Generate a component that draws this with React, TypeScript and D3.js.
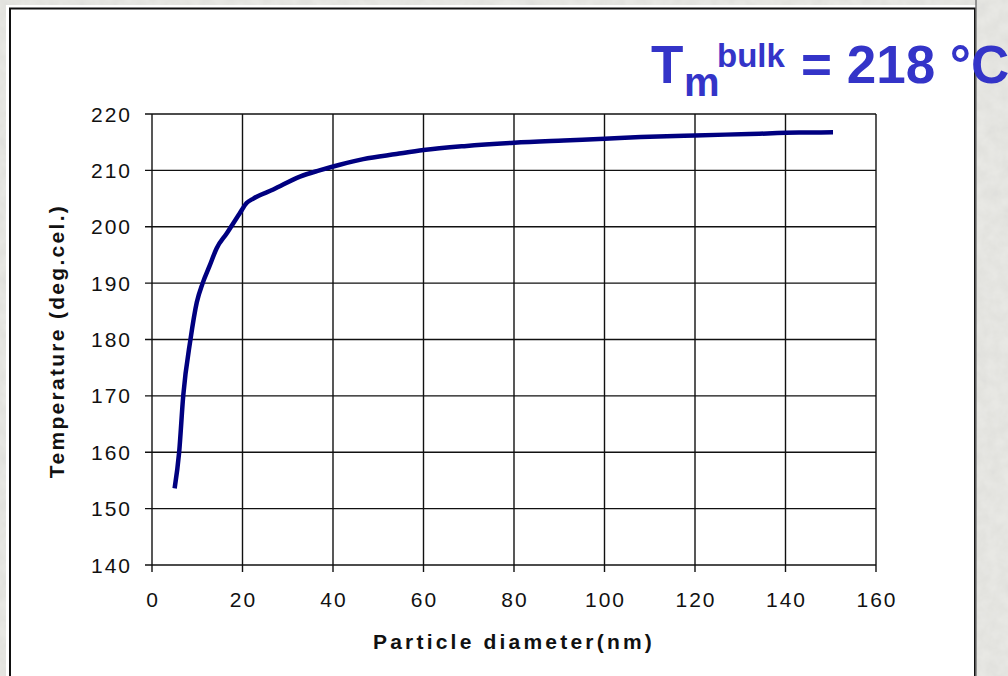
import { useEffect, useRef } from 'react';
import * as d3 from 'd3';

// particle diameter (nm) vs melting temperature (deg C)
const diameters = [5, 6, 6.9, 8.5, 9.9, 11.2, 12.7, 14.3, 16.5, 19.4, 20.9, 22.4, 26.8, 32.7, 37, 41.5, 46.7, 54, 60, 69, 80, 91, 100, 108, 120, 132, 143, 150.5];
const temperatures = [153.6, 160, 170, 180, 186.6, 190, 193, 196.2, 198.8, 202.4, 204.2, 205, 206.6, 208.9, 210, 211, 212, 212.9, 213.6, 214.3, 214.9, 215.3, 215.6, 215.9, 216.2, 216.45, 216.7, 216.75];

const xTicks = [0, 20, 40, 60, 80, 100, 120, 140, 160];
const yTicks = [140, 150, 160, 170, 180, 190, 200, 210, 220];

const WIDTH = 1008;
const HEIGHT = 676;

export default function App() {
  const svgRef = useRef<SVGSVGElement>(null);

  useEffect(() => {
    if (!svgRef.current) return;
    const svg = d3.select(svgRef.current);
    svg.selectAll('*').remove();

    const left = 152, right = 876, top = 114, bottom = 565;

    // marble-ish background
    const defs = svg.append('defs');
    const f = defs.append('filter').attr('id', 'marble').attr('x', 0).attr('y', 0).attr('width', 1).attr('height', 1);
    f.append('feTurbulence').attr('type', 'fractalNoise').attr('baseFrequency', 0.08).attr('numOctaves', 3).attr('seed', 4).attr('result', 'n');
    f.append('feColorMatrix').attr('in', 'n').attr('type', 'matrix')
      .attr('values', '0 0 0 0 0.7  0 0 0 0 0.7  0 0 0 0 0.68  0 0 0 -0.9 0.7');
    f.append('feComposite').attr('in2', 'SourceGraphic').attr('operator', 'over');

    svg.append('rect').attr('width', WIDTH).attr('height', HEIGHT).attr('fill', '#e8e8e4');
    svg.append('rect').attr('width', WIDTH).attr('height', HEIGHT).attr('fill', '#e8e8e4').attr('filter', 'url(#marble)');

    // white chart panel
    svg.append('rect').attr('x', 6).attr('y', 5).attr('width', 970).attr('height', HEIGHT).attr('fill', '#fff');
    svg.append('rect').attr('x', 10).attr('y', 8.5).attr('width', 965).attr('height', HEIGHT)
      .attr('fill', 'none').attr('stroke', '#111').attr('stroke-width', 2);
    svg.append('line').attr('x1', 976).attr('x2', 976).attr('y1', 0).attr('y2', HEIGHT)
      .attr('stroke', '#777').attr('stroke-width', 1.5);

    const x = d3.scaleLinear().domain([0, 160]).range([left, right]);
    const y = d3.scaleLinear().domain([140, 220]).range([bottom, top]);

    const font = 'Arial, "Liberation Sans", sans-serif';

    // grid
    const grid = svg.append('g').attr('stroke', '#111').attr('stroke-width', 1.4);
    grid.selectAll('.vx').data(xTicks).enter().append('line')
      .attr('x1', d => x(d)).attr('x2', d => x(d)).attr('y1', top).attr('y2', bottom + 7);
    grid.selectAll('.hy').data(yTicks).enter().append('line')
      .attr('x1', left - 7).attr('x2', right).attr('y1', d => y(d)).attr('y2', d => y(d));

    // tick labels
    svg.append('g').selectAll('text').data(yTicks).enter().append('text')
      .attr('x', 132).attr('y', d => y(d) + 7.5)
      .attr('text-anchor', 'end')
      .style('font-family', font).style('font-size', '21px').style('letter-spacing', '2px')
      .attr('fill', '#111')
      .text(d => d);

    svg.append('g').selectAll('text').data(xTicks).enter().append('text')
      .attr('x', d => x(d) + 1).attr('y', 607)
      .attr('text-anchor', 'middle')
      .style('font-family', font).style('font-size', '21px').style('letter-spacing', '2px')
      .attr('fill', '#111')
      .text(d => d);

    // axis titles
    svg.append('text')
      .attr('x', 514).attr('y', 649)
      .attr('text-anchor', 'middle')
      .style('font-family', font).style('font-size', '21px').style('font-weight', 'bold').style('letter-spacing', '3.2px')
      .attr('fill', '#111')
      .text('Particle diameter(nm)');

    svg.append('text')
      .attr('transform', 'translate(64,341) rotate(-90)')
      .attr('text-anchor', 'middle')
      .style('font-family', font).style('font-size', '21px').style('font-weight', 'bold').style('letter-spacing', '2.3px')
      .attr('fill', '#111')
      .text('Temperature (deg.cel.)');

    // curve
    const pts: [number, number][] = diameters.map((d, i) => [d, temperatures[i]]);
    const line = d3.line<[number, number]>()
      .x(d => x(d[0])).y(d => y(d[1]))
      .curve(d3.curveMonotoneX);
    svg.append('path').attr('d', line(pts) || '')
      .attr('fill', 'none').attr('stroke', '#000080').attr('stroke-width', 4.5);

    // title: T_m^bulk = 218 °C
    const title = svg.append('text')
      .attr('x', 651).attr('y', 83)
      .style('font-family', font).style('font-weight', 'bold')
      .attr('fill', '#3434c8');
    title.append('tspan').style('font-size', '53px').text('T');
    title.append('tspan').attr('x', 684).attr('y', 96).style('font-size', '40px').text('m');
    title.append('tspan').attr('x', 717).attr('y', 67).style('font-size', '33px').text('bulk');
    title.append('tspan').attr('x', 801).attr('y', 83).style('font-size', '53px').text('= 218 °C');
  }, []);

  return (
    <div style={{ position: 'absolute', left: 0, top: 0 }}>
      <svg ref={svgRef} width={WIDTH} height={HEIGHT} style={{ display: 'block' }} />
    </div>
  );
}
